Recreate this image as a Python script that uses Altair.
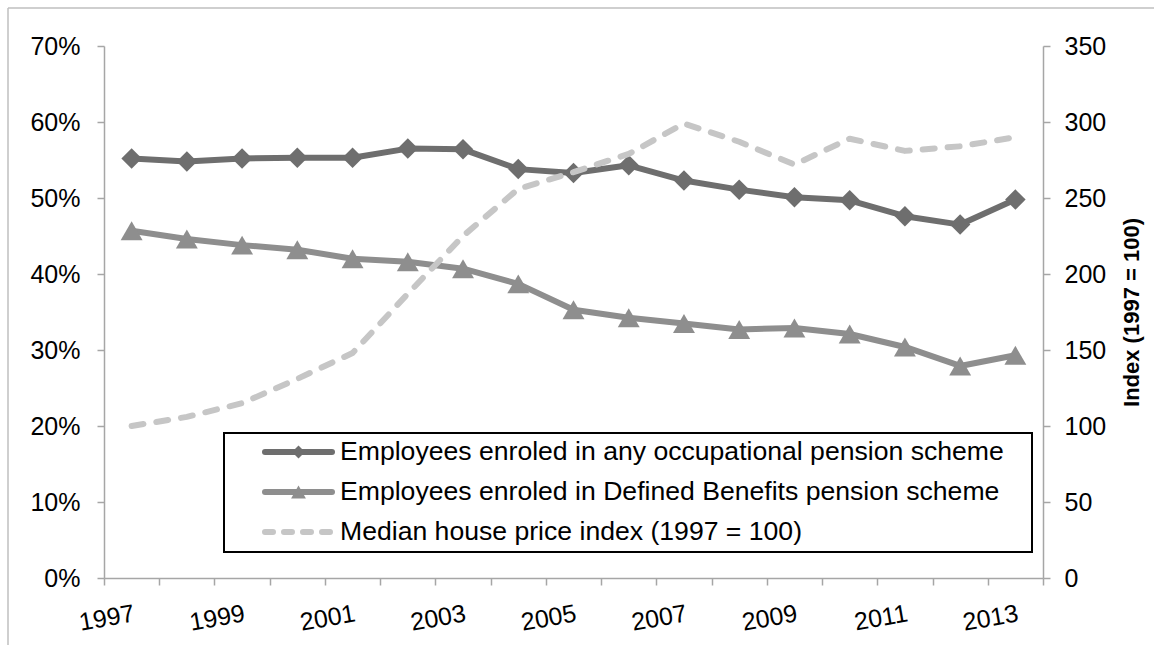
import altair as alt
import pandas as pd

# Survey years (category axis)
years = [str(y) for y in range(1997, 2014)]

# Share of employees enroled in pension schemes (%)
occupational = [55.2, 54.8, 55.2, 55.3, 55.3, 56.5, 56.4, 53.8, 53.3,
                54.3, 52.3, 51.1, 50.1, 49.7, 47.6, 46.5, 49.8]
defined_benefits = [45.7, 44.6, 43.8, 43.2, 42.0, 41.6, 40.7, 38.7, 35.3,
                    34.25, 33.5, 32.7, 32.9, 32.1, 30.4, 27.9, 29.3]

# Median house price index (1997 = 100)
house_price_index = [100, 106, 115, 131, 148, 187, 225, 256, 267,
                     279, 299, 287, 272, 289, 281, 284, 290]

series_names = [
    "Employees enroled in any occupational pension scheme",
    "Employees enroled in Defined Benefits pension scheme",
    "Median house price index (1997 = 100)",
]
left_ticks = [0, 0.1, 0.2, 0.3, 0.4, 0.5, 0.6, 0.7]
right_ticks = [0, 50, 100, 150, 200, 250, 300, 350]

DARK = "#6e6e6e"
MID = "#8e8e8e"
LIGHT = "#c6c6c6"
AXIS_GREY = "#a6a6a6"
FONT = "Liberation Sans"

W, H = 939, 532

pension = pd.DataFrame({
    "year": years * 2,
    "series": [series_names[0]] * len(years) + [series_names[1]] * len(years),
    "share": [v / 100 for v in occupational] + [v / 100 for v in defined_benefits],
})
house = pd.DataFrame({"year": years, "index": house_price_index})

x_enc = alt.X(
    "year:O",
    bandPosition=0.5,
    scale=alt.Scale(type="band", paddingInner=0, paddingOuter=0),
    axis=alt.Axis(
        title=None, tickBand="extent", tickSize=7, labelAngle=350,
        labelAlign="right", labelBaseline="top", labelPadding=16,
        labelOverlap=False,
        labelExpr="(toNumber(datum.value) - 1997) % 2 == 0 ? datum.value : ''",
    ),
)

left_axis = alt.Axis(title=None, values=left_ticks, format=".0%", orient="left",
                     tickSize=7, labelPadding=17)
y_left = alt.Y("share:Q", scale=alt.Scale(domain=[0, 0.7]), axis=left_axis)

colour = alt.Color("series:N", scale=alt.Scale(domain=series_names[:2], range=[DARK, MID]),
                   legend=None)

pension_lines = alt.Chart(pension).mark_line(strokeWidth=6, strokeJoin="round").encode(
    x=x_enc, y=y_left, color=colour, detail="series:N"
)
pension_points = alt.Chart(pension).mark_point(filled=True, opacity=1).encode(
    x=x_enc, y=y_left, color=colour,
    shape=alt.Shape("series:N", scale=alt.Scale(domain=series_names[:2],
                                                range=["diamond", "triangle-up"]), legend=None),
    size=alt.Size("series:N", scale=alt.Scale(domain=series_names[:2], range=[420, 480]),
                  legend=None),
)
pension_layer = alt.layer(pension_lines, pension_points)

house_line = alt.Chart(house).mark_line(
    strokeWidth=6, strokeDash=[12, 13], strokeCap="round", strokeJoin="round", color=LIGHT
).encode(
    x=x_enc,
    y=alt.Y("index:Q", scale=alt.Scale(domain=[0, 350]),
            axis=alt.Axis(orient="right", values=right_ticks, tickSize=7, labelPadding=14,
                          title="Index (1997 = 100)", titleFont=FONT, titleFontSize=22,
                          titleFontWeight="bold", titleColor="black", titleAngle=270,
                          titleX=88, titleY=H / 2, titleAlign="center",
                          titleBaseline="middle")),
)

one = pd.DataFrame({"k": [0]})

# Outer frame of the chart
frame_left = alt.Chart(one).mark_rule(color="#bfbfbf", strokeWidth=1.5).encode(
    x=alt.value(-96), y=alt.value(-38), y2=alt.value(H + 80))
frame_top = alt.Chart(one).mark_rule(color="#bfbfbf", strokeWidth=1.5).encode(
    x=alt.value(-96), x2=alt.value(W + 120), y=alt.value(-38))

# Legend box inside the plot area
box = alt.Chart(one).mark_rect(fill="white", stroke="black", strokeWidth=2).encode(
    x=alt.value(120), x2=alt.value(928), y=alt.value(387), y2=alt.value(506))

legend_layers = [box]
row_y = [406, 446, 486]
sample_x0, sample_x1, text_x = 158, 231, 236
for i, name in enumerate(series_names):
    ry = row_y[i]
    if i < 2:
        legend_layers.append(
            alt.Chart(one).mark_rule(strokeWidth=6, strokeCap="round",
                                     color=[DARK, MID][i]).encode(
                x=alt.value(sample_x0 + 3), x2=alt.value(sample_x1 - 3), y=alt.value(ry)))
        legend_layers.append(
            alt.Chart(one).mark_point(filled=True, opacity=1, color=[DARK, MID][i],
                                      shape=["diamond", "triangle-up"][i],
                                      size=[170, 220][i]).encode(
                x=alt.value((sample_x0 + sample_x1) / 2), y=alt.value(ry)))
    else:
        legend_layers.append(
            alt.Chart(one).mark_rule(strokeWidth=6, strokeCap="round", strokeDash=[8, 11],
                                     color=LIGHT).encode(
                x=alt.value(sample_x0 + 3), x2=alt.value(sample_x1), y=alt.value(ry)))
    legend_layers.append(
        alt.Chart(pd.DataFrame({"t": [name]})).mark_text(
            align="left", baseline="middle", font=FONT, fontSize=26.6, color="black"
        ).encode(x=alt.value(text_x), y=alt.value(ry), text="t:N"))

chart = alt.layer(
    frame_left, frame_top, pension_layer, house_line, *legend_layers
).resolve_scale(
    y="independent", color="independent", shape="independent", size="independent"
).properties(
    width=W, height=H,
    padding={"left": 104, "top": 46, "right": 1154 - 104 - W, "bottom": 645 - 46 - H},
    autosize=alt.AutoSizeParams(type="none"),
    background="white",
).configure_view(
    stroke=None
).configure_axis(
    grid=False, domainColor=AXIS_GREY, tickColor=AXIS_GREY, domainWidth=1.5, tickWidth=1.5,
    labelColor="black", labelFont=FONT, labelFontSize=25,
)

chart.save("out.html", embed_options={"renderer": "svg", "actions": False})
